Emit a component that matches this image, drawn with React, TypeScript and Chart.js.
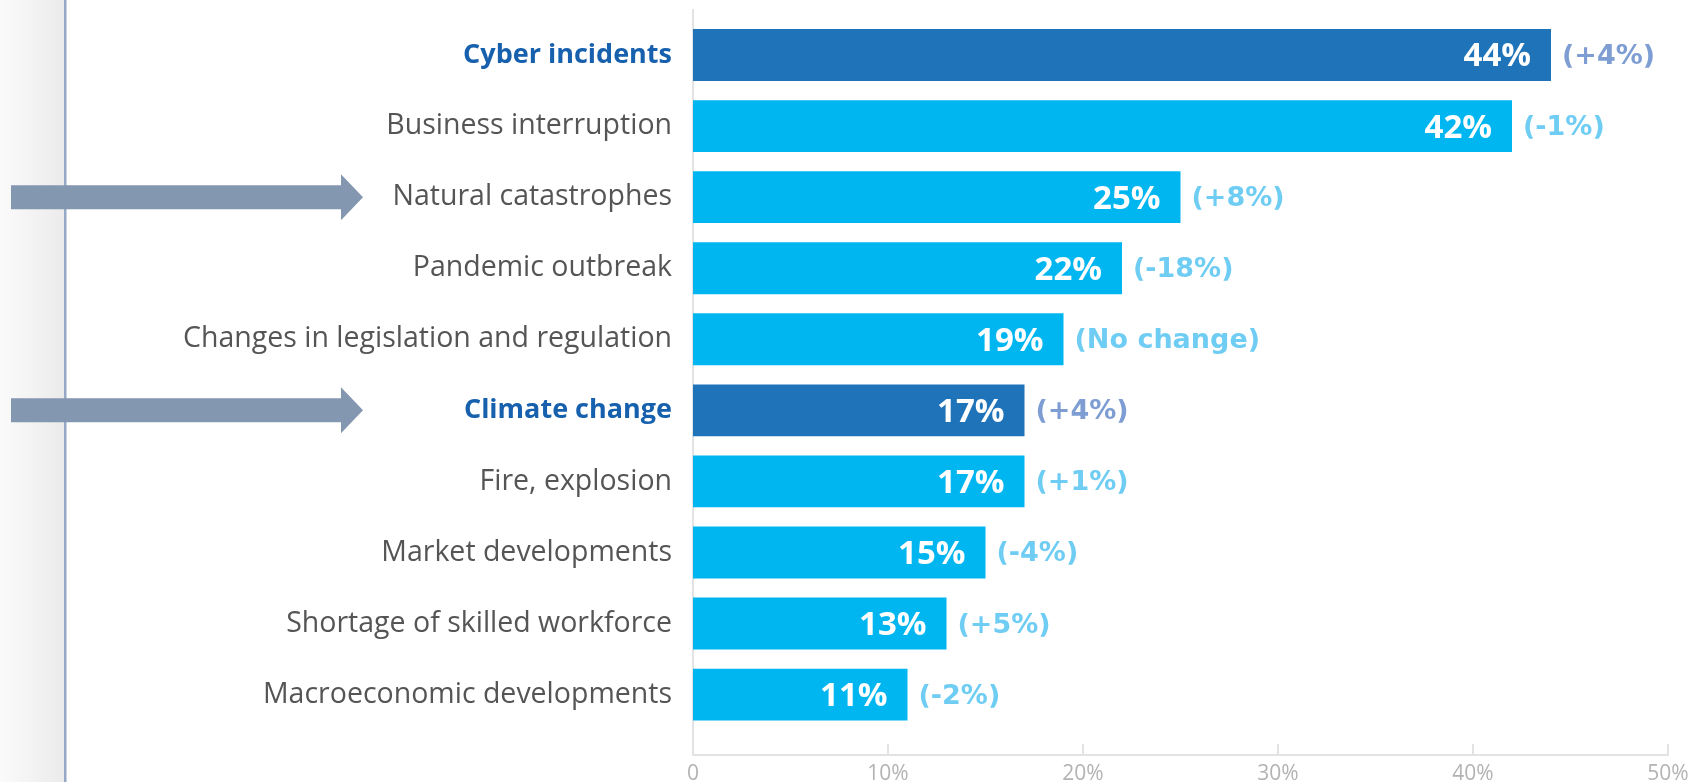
import React, { useEffect, useRef } from 'react';
import { Chart, registerables } from 'chart.js';

Chart.register(...registerables);

const categories = [
  'Cyber incidents',
  'Business interruption',
  'Natural catastrophes',
  'Pandemic outbreak',
  'Changes in legislation and regulation',
  'Climate change',
  'Fire, explosion',
  'Market developments',
  'Shortage of skilled workforce',
  'Macroeconomic developments',
];
const values = [44, 42, 25, 22, 19, 17, 17, 15, 13, 11];
const changes = ['(+4%)', '(-1%)', '(+8%)', '(-18%)', '(No change)', '(+4%)', '(+1%)', '(-4%)', '(+5%)', '(-2%)'];
const highlighted = ['Cyber incidents', 'Climate change'];
const arrowCategories = ['Natural catastrophes', 'Climate change'];
const xTickValues = [0, 10, 20, 30, 40, 50];

const FONT = '"Open Sans", "Noto Sans", sans-serif';
const CHANGE_FONT = '"DejaVu Sans", sans-serif';
const DARK_BAR = '#1f73b8';
const LIGHT_BAR = '#00b6f0';
const DARK_LABEL = '#1660ad';
const GREY_LABEL = '#555555';
const DARK_CHANGE = '#7e9ed3';
const LIGHT_CHANGE = '#6fcdf4';
const AXIS = '#e3e3e3';
const ARROW = '#8497b0';

const isHl = (i: number) => highlighted.includes(categories[i]);

const overlay = {
  id: 'overlay',
  beforeDraw(chart: any) {
    const ctx = chart.ctx;
    ctx.save();
    const g = ctx.createLinearGradient(0, 0, 64, 0);
    g.addColorStop(0, '#fbfbfb');
    g.addColorStop(1, '#ebebec');
    ctx.fillStyle = g;
    ctx.fillRect(0, 0, 64, chart.height);
    ctx.fillStyle = '#95a8c6';
    ctx.fillRect(64, 0, 2, chart.height);
    ctx.fillStyle = '#c9d3e2';
    ctx.fillRect(66, 0, 1, chart.height);
    ctx.restore();
  },
  afterDatasetsDraw(chart: any) {
    const ctx = chart.ctx;
    const meta = chart.getDatasetMeta(0);
    meta.data.forEach((bar: any, i: number) => {
      ctx.save();
      ctx.textBaseline = 'middle';
      ctx.font = `bold 33px ${FONT}`;
      ctx.fillStyle = '#ffffff';
      ctx.textAlign = 'right';
      ctx.fillText(values[i] + '%', bar.x - 20, bar.y + 2);
      ctx.font = `bold 27px ${CHANGE_FONT}`;
      ctx.fillStyle = isHl(i) ? DARK_CHANGE : LIGHT_CHANGE;
      ctx.textAlign = 'left';
      ctx.fillText(changes[i], bar.x + 11, bar.y + 2);
      ctx.restore();
    });
  },
  afterDraw(chart: any) {
    const ctx = chart.ctx;
    const xs = chart.scales.x;
    const ys = chart.scales.y;
    const area = chart.chartArea;
    ctx.save();
    ctx.strokeStyle = AXIS;
    ctx.lineWidth = 2;
    xs.ticks.forEach((t: any) => {
      const px = Math.round(xs.getPixelForValue(t.value));
      ctx.beginPath();
      ctx.moveTo(px, area.bottom - 11);
      ctx.lineTo(px, area.bottom);
      ctx.stroke();
    });
    ctx.fillStyle = ARROW;
    arrowCategories.forEach((name) => {
      const idx = categories.indexOf(name);
      const y = ys.getPixelForValue(idx);
      ctx.beginPath();
      ctx.moveTo(11, y - 12);
      ctx.lineTo(341, y - 12);
      ctx.lineTo(341, y - 23);
      ctx.lineTo(363, y);
      ctx.lineTo(341, y + 23);
      ctx.lineTo(341, y + 12);
      ctx.lineTo(11, y + 12);
      ctx.closePath();
      ctx.fill();
    });
    ctx.restore();
  },
};

export default function App() {
  const ref = useRef<HTMLCanvasElement | null>(null);

  useEffect(() => {
    if (!ref.current) return;
    const chart = new Chart(ref.current, {
      type: 'bar',
      data: {
        datasets: [
          {
            data: values.map((v, i) => ({ x: v, y: i })) as any,
            backgroundColor: categories.map((_, i) => (isHl(i) ? DARK_BAR : LIGHT_BAR)),
            borderWidth: 0,
            categoryPercentage: 1,
            barPercentage: 0.73,
          },
        ],
      },
      options: {
        indexAxis: 'y',
        responsive: false,
        animation: false,
        layout: { padding: { top: 10, right: 25, left: 0, bottom: 0 } },
        plugins: { legend: { display: false }, tooltip: { enabled: false } },
        scales: {
          x: {
            type: 'linear',
            min: 0,
            max: 50,
            offset: false,
            afterBuildTicks: (s: any) => {
              s.ticks = xTickValues.map((v) => ({ value: v }));
            },
            afterFit: (s: any) => {
              s.height = 27;
              s.paddingLeft = 0;
              s.paddingRight = 0;
            },
            grid: { display: false, drawTicks: false },
            border: { display: true, color: AXIS, width: 2 },
            ticks: {
              padding: 6,
              color: '#b3b3b3',
              maxRotation: 0,
              font: { family: FONT, size: 21 },
              callback: (v: any) => (v === 0 ? '0' : v + '%'),
            },
          },
          y: {
            type: 'linear',
            reverse: true,
            offset: false,
            min: -0.634,
            max: 9.85,
            afterBuildTicks: (s: any) => {
              s.ticks = categories.map((_, i) => ({ value: i }));
            },
            afterFit: (s: any) => {
              s.width = 693;
              s.paddingTop = 0;
              s.paddingBottom = 0;
            },
            grid: { display: false, drawTicks: false, offset: false },
            border: { display: true, color: AXIS, width: 2 },
            ticks: {
              autoSkip: false,
              padding: 21,
              callback: (v: any) => categories[v],
              color: (c: any) => (isHl(c.tick?.value ?? c.index) ? DARK_LABEL : GREY_LABEL),
              font: (c: any) =>
                isHl(c.tick?.value ?? c.index)
                  ? { family: FONT, size: 27, weight: 'bold' }
                  : { family: FONT, size: 28.5 },
            },
          },
        },
      },
      plugins: [overlay],
    });
    return () => chart.destroy();
  }, []);

  return (
    <div style={{ position: 'fixed', left: 0, top: 0, width: 1693, height: 782, background: '#fff' }}>
      <canvas ref={ref} width={1693} height={782} />
    </div>
  );
}
